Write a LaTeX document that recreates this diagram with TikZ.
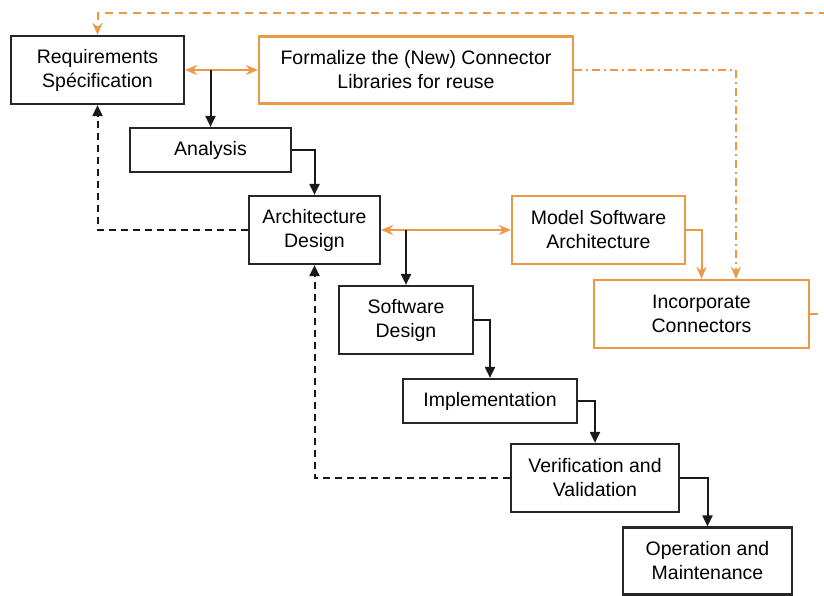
\documentclass[tikz,border=0pt]{standalone}
\usepackage{fontspec}
\setmainfont{Liberation Sans}
\usetikzlibrary{arrows.meta}
\definecolor{org}{RGB}{235,153,68}
\tikzset{
  box/.style={draw=black!85, line width=2.2pt, fill=white, align=center, inner sep=0pt,
    font=\fontsize{19.5}{24}\selectfont},
  obox/.style={box, draw=org},
  arr/.style={draw=black!90, line width=2pt, -{Triangle[length=11pt,width=10pt]}},
  darr/.style={arr, dash pattern=on 7pt off 5pt},
  oarr/.style={draw=org, line width=2pt, {Stealth[length=12pt,width=10pt]}-{Stealth[length=12pt,width=10pt]}},
  odash/.style={draw=org, line width=2pt, dash pattern=on 8pt off 6pt, -{Stealth[length=12pt,width=10pt]}},
  odashdot/.style={draw=org, line width=2pt, dash pattern=on 8pt off 4pt on 2pt off 4pt, -{Stealth[length=12pt,width=10pt]}},
  oline/.style={draw=org, line width=2pt, -{Stealth[length=12pt,width=10pt]}},
}
\begin{document}
\begin{tikzpicture}[x=1pt,y=-1pt]
\useasboundingbox (0,0) rectangle (824,595);
\clip (0,0) rectangle (824,595);
\node[box, minimum width=173pt, minimum height=68pt] (req) at (97.5,70) {Requirements\\Spécification};
\node[obox, minimum width=314pt, minimum height=67pt] (form) at (416,70) {Formalize the (New) Connector\\Libraries for reuse};
\node[box, minimum width=161pt, minimum height=44pt] (ana) at (210.5,150) {Analysis};
\node[box, minimum width=131pt, minimum height=68pt] (arch) at (314.5,230) {Architecture\\Design};
\node[obox, minimum width=173pt, minimum height=68pt] (model) at (598.5,230) {Model Software\\Architecture};
\node[obox, minimum width=215pt, minimum height=68pt] (inc) at (701.5,314) {Incorporate\\Connectors};
\node[box, minimum width=134pt, minimum height=68pt] (sd) at (406,320) {Software\\Design};
\node[box, minimum width=174pt, minimum height=44pt] (impl) at (490,401) {Implementation};
\node[box, minimum width=168pt, minimum height=68pt] (vv) at (595,478) {Verification and\\Validation};
\node[box, minimum width=169pt, minimum height=67pt] (op) at (707.5,561) {Operation and\\Maintenance};

\coordinate (loopr) at (836,314);
\coordinate (looptop) at (836,13);

% orange connectors
\draw[oarr] (req.east) -- (form.west);
\draw[oarr] (arch.east) -- (model.west);
\draw[oline] (model.east) -| (inc.north);
\draw[odashdot] (form.east) -| ([xshift=34.5pt]inc.north);
\draw[odash] (inc.east) -- (loopr) -- (looptop) -| (req.north);

% black flow
\draw[arr] (req.east -| ana.north) -- (ana.north);
\draw[arr] (ana.east) -| (arch.north);
\draw[arr] (arch.east -| sd.north) -- (sd.north);
\draw[arr] (sd.east) -| (impl.north);
\draw[arr] (impl.east) -| (vv.north);
\draw[arr] (vv.east) -| (op.north);

% feedback
\draw[darr] (arch.west) -| (req.south);
\draw[darr] (vv.west) -| (arch.south);
\end{tikzpicture}
\end{document}
